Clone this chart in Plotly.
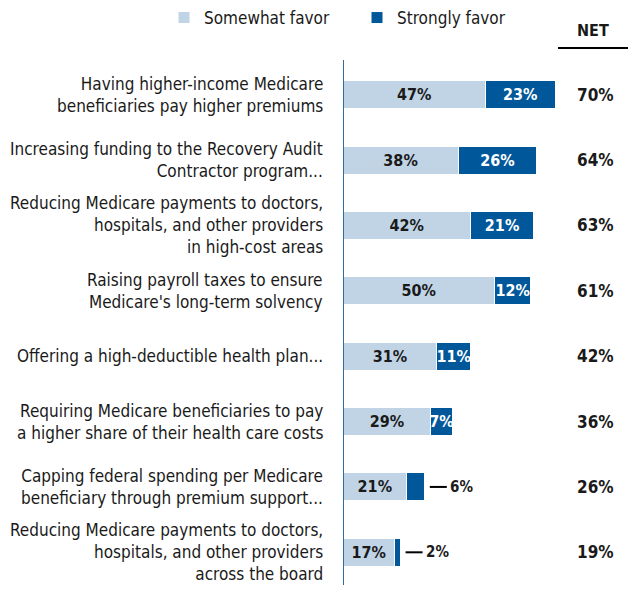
import plotly.graph_objects as go

categories = [
    "Having higher-income Medicare<br>beneficiaries pay higher premiums",
    "Increasing funding to the Recovery Audit<br>Contractor program...",
    "Reducing Medicare payments to doctors,<br>hospitals, and other providers<br>in high-cost areas",
    "Raising payroll taxes to ensure<br>Medicare's long-term solvency",
    "Offering a high-deductible health plan...",
    "Requiring Medicare beneficiaries to pay<br>a higher share of their health care costs",
    "Capping federal spending per Medicare<br>beneficiary through premium support...",
    "Reducing Medicare payments to doctors,<br>hospitals, and other providers<br>across the board",
]
somewhat = [47, 38, 42, 50, 31, 29, 21, 17]
strongly = [23, 26, 21, 12, 11, 7, 6, 2]
net = [70, 64, 63, 61, 42, 36, 26, 19]
small_cutoff = 7  # strongly-favor values below this are labelled outside the bar

FONT = "DejaVu Sans Condensed"
LIGHT = "#c0d4e6"
DARK = "#00589b"
TXT = "#1a1a1a"

W, H = 638, 593
TOP, BOT = 62, 585
x0_px = 343
px_per_unit = 3.03
xmax = (W - x0_px) / px_per_unit


def py(p):  # pixel row -> paper y
    return (BOT - p) / (BOT - TOP)


ys = list(range(len(categories)))

fig = go.Figure()
fig.add_trace(go.Bar(
    y=ys, x=somewhat, orientation="h", name="Somewhat favor",
    marker=dict(color=LIGHT, line=dict(color="white", width=1)),
    text=[f"{v}%" for v in somewhat], textposition="inside",
    insidetextanchor="middle", textangle=0,
    textfont=dict(family=FONT, size=16, color=TXT, weight="bold"),
    width=0.43,
))
fig.add_trace(go.Bar(
    y=ys, x=strongly, orientation="h", name="Strongly favor",
    marker=dict(color=DARK, line=dict(color="white", width=1)),
    text=[f"{v}%" if v >= small_cutoff else "" for v in strongly],
    textposition="inside", insidetextanchor="middle", textangle=0,
    textfont=dict(family=FONT, size=16, color="white", weight="bold"),
    width=0.43,
))

ann = []
shapes = []
for i, (c, s, t, n) in enumerate(zip(categories, somewhat, strongly, net)):
    ann.append(dict(x=325 / W, xref="paper", y=i, yref="y", text=c,
                    xanchor="right", yanchor="middle", align="right",
                    showarrow=False,
                    font=dict(family=FONT, size=17, color=TXT)))
    ann.append(dict(x=595 / W, xref="paper", y=i, yref="y", text=f"{n}%",
                    xanchor="center", yanchor="middle", showarrow=False,
                    font=dict(family=FONT, size=17, color=TXT, weight="bold")))
    if t < small_cutoff:
        tot = s + t
        shapes.append(dict(type="line", xref="x", yref="y", xsizemode="pixel",
                           xanchor=tot, x0=5, x1=22, y0=i, y1=i,
                           line=dict(color="black", width=2)))
        ann.append(dict(x=tot, xref="x", y=i, yref="y", text=f"{t}%",
                        xanchor="left", yanchor="middle", showarrow=False,
                        xshift=23,
                        font=dict(family=FONT, size=15, color=TXT, weight="bold")))

ann.append(dict(x=593 / W, xref="paper", y=py(30), yref="paper", text="NET",
                xanchor="center", yanchor="middle", showarrow=False,
                font=dict(family=FONT, size=16, color=TXT, weight="bold")))
shapes.append(dict(type="line", xref="paper", yref="paper",
                   x0=558 / W, x1=628 / W, y0=py(48), y1=py(48),
                   line=dict(color="black", width=2)))
# vertical axis line at x=0
shapes.append(dict(type="line", xref="x", yref="paper", x0=0, x1=0,
                   y0=0, y1=1.004, line=dict(color="#2e6da4", width=2)))

fig.update_layout(
    width=W, height=H, barmode="stack",
    margin=dict(l=0, r=0, t=TOP, b=H - BOT),
    paper_bgcolor="white", plot_bgcolor="white",
    xaxis=dict(domain=[x0_px / W, 1], range=[0, xmax], visible=False,
               fixedrange=True),
    yaxis=dict(range=[len(categories) - 0.5, -0.5], showticklabels=False,
               showgrid=False, zeroline=False, ticks="",
               showline=False),
    showlegend=True,
    legend=dict(orientation="h", xref="container", yref="container",
                x=164 / W, xanchor="left", y=1 - 0 / H,
                yanchor="top", entrywidth=148, entrywidthmode="pixels",
                font=dict(family=FONT, size=17, color=TXT),
                bgcolor="rgba(0,0,0,0)", traceorder="normal",
                itemclick=False),
    uniformtext=dict(minsize=16, mode="show"),
    annotations=ann, shapes=shapes,
)

fig.write_html("out.html")
